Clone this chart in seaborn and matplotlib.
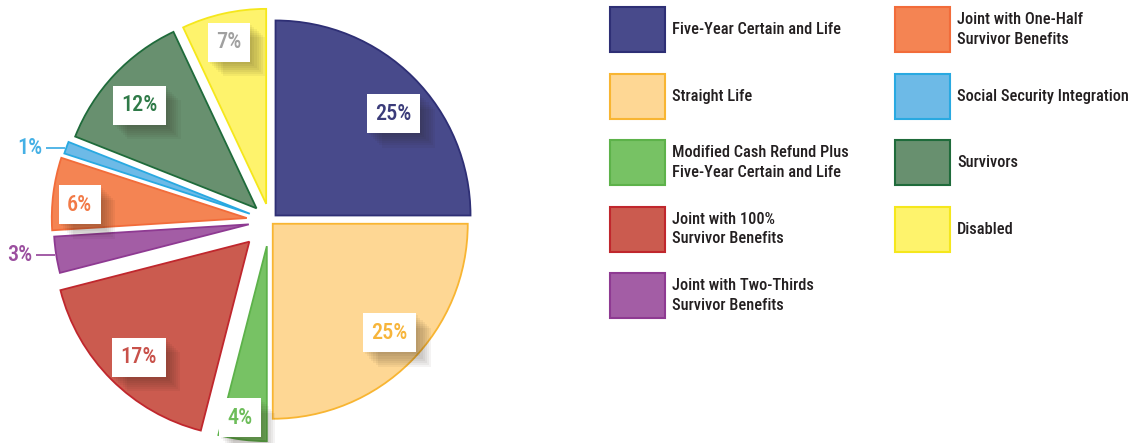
import os
import numpy as np
import matplotlib
matplotlib.use("Agg")
import matplotlib.pyplot as plt
import matplotlib.patheffects as pe
from matplotlib import font_manager as fm
from matplotlib.patches import Rectangle
import seaborn as sns

# Annuity option shares (percent), clockwise from 12 o'clock
categories = [
    "Five-Year Certain and Life",
    "Straight Life",
    "Modified Cash Refund Plus\nFive-Year Certain and Life",
    "Joint with 100%\nSurvivor Benefits",
    "Joint with Two-Thirds\nSurvivor Benefits",
    "Joint with One-Half\nSurvivor Benefits",
    "Social Security Integration",
    "Survivors",
    "Disabled",
]
shares = [25, 25, 4, 17, 3, 6, 1, 12, 7]

fill_colors = ["#484A8B", "#FED794", "#77C264", "#CB5B4F", "#A35DA5",
               "#F48453", "#6DBAE7", "#68906F", "#FEF36C"]
edge_colors = ["#2E2F75", "#F8B532", "#5DB24A", "#C0272D", "#8E3A92",
               "#F26C3A", "#29A9E1", "#1F6B3B", "#F5E71C"]
label_colors = ["#3B3C7A", "#F7B53B", "#6DBD5A", "#C8514A", "#9B4F9F",
                "#F27A47", "#45B0E5", "#2F7A48", "#A0A0A0"]
explode = [0.04, 0.02, 0.13, 0.15, 0.11, 0.12, 0.11, 0.095, 0.09]
label_outside = [False, False, False, False, True, False, True, False, False]
label_dist = [0.80, 0.82, 0.89, 0.82, 0.0, 0.86, 0.0, 0.80, 0.85]
label_turn = [-4.2, 2.0, -1.8, 1.3, 0.0, 2.7, 0.0, 1.9, 0.3]


def condensed_font(weights=("Medium", "Regular")):
    """Pick a narrow sans face if one is installed."""
    entries = fm.fontManager.ttflist
    prefs = [f"RobotoCondensed-{w}." for w in weights] + [
        "RobotoCondensed[", "LiberationSansNarrow-Regular",
        "NotoSans-CondensedMedium", "NotoSans-Condensed.", "DejaVuSansCondensed.",
        "NotoSans-SemiCondensed."]
    for p in prefs:
        for f in entries:
            if os.path.basename(f.fname).startswith(p):
                return fm.FontProperties(fname=f.fname)
    for f in entries:
        base = os.path.basename(f.fname).lower()
        if ("condensed" in base or "narrow" in base) and "bold" not in base \
                and "italic" not in base and "light" not in base and "black" not in base:
            return fm.FontProperties(fname=f.fname)
    return fm.FontProperties(family="Roboto")


sns.set_theme(style="white")
plt.rcParams["font.family"] = ["Roboto", "DejaVu Sans"]
font = condensed_font()

W, H = 1137, 443
fig = plt.figure(figsize=(W / 100, H / 100), dpi=100)
fig.patch.set_facecolor("white")

# pie axes: one data unit equals the pie radius in pixels
R = 195.0
cx, cy = 270.0, 221.0
ax_w = 540.0
ax = fig.add_axes([0, 0, ax_w / W, 1])
palette = sns.color_palette(fill_colors)
wedges, _ = ax.pie(shares, colors=palette, startangle=90, counterclock=False,
                   explode=explode, radius=1.0,
                   wedgeprops=dict(linewidth=1.3))
for w, ec in zip(wedges, edge_colors):
    w.set_edgecolor(ec)
ax.set_aspect("auto")
ax.set_xlim(-cx / R, (ax_w - cx) / R)
ax.set_ylim(-(H - cy) / R, cy / R)
ax.axis("off")

# soft drop shadow under the value boxes
shadow = [pe.SimplePatchShadow(offset=(k, -k), shadow_rgbFace="#2a1e14", alpha=0.05)
          for k in (1.5, 3, 4.5, 6, 7.5, 9, 10.5)] + [pe.Normal()]

for w, val, col, out, dist, turn in zip(wedges, shares, label_colors, label_outside,
                                        label_dist, label_turn):
    mid = np.deg2rad((w.theta1 + w.theta2) / 2 + turn)
    ux, uy = np.cos(mid), np.sin(mid)
    x0, y0 = w.center
    txt = f"{val}%"
    if out:
        px, py = x0 + ux * 1.0, y0 + uy * 1.0
        ax.plot([px - 0.005, px - 0.105], [py, py], color=col, lw=1.3,
                solid_capstyle="butt")
        ax.text(px - 0.12, py, txt, color=col, fontproperties=font, fontsize=16,
                ha="right", va="center")
    else:
        t = ax.text(x0 + ux * dist, y0 + uy * dist, txt, color=col,
                    fontproperties=font, fontsize=16, ha="center", va="center",
                    bbox=dict(boxstyle="square,pad=0.38", facecolor="white",
                              edgecolor="none"))
        t.get_bbox_patch().set_path_effects(shadow)

# legend drawn in figure pixel space, two columns
lax = fig.add_axes([0, 0, 1, 1], facecolor="none")
lax.set_xlim(0, W)
lax.set_ylim(H, 0)
lax.axis("off")
col_x = [610, 895]
row_h = 66.5
sw_w, sw_h = 55, 45
for i, (name, fc, ec) in enumerate(zip(categories, fill_colors, edge_colors)):
    c, r = (0, i) if i < 5 else (1, i - 5)
    x = col_x[c]
    y = 7 + r * row_h
    lax.add_patch(Rectangle((x, y), sw_w, sw_h, facecolor=fc, edgecolor=ec, lw=1.5))
    lax.text(x + sw_w + 7, y + sw_h / 2, name, fontproperties=font, fontsize=11.8,
             color="#231F20", ha="left", va="center", linespacing=1.35)

fig.savefig("out.png", dpi=100, facecolor="white")
